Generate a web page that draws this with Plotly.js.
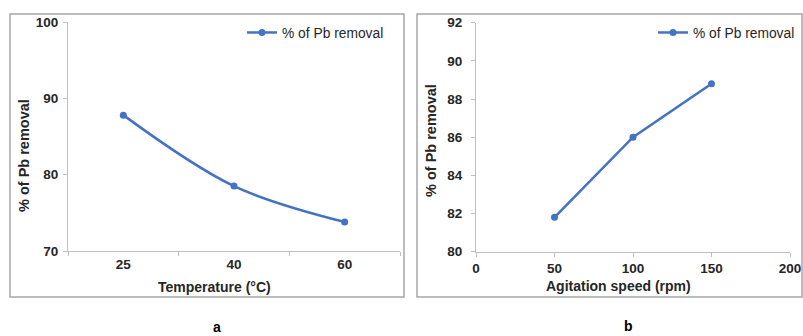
<!DOCTYPE html>
<html>
<head>
<meta charset="utf-8">
<script src="https://cdn.plot.ly/plotly-3.0.1.min.js"></script>
<style>html,body{margin:0;padding:0;background:#fff;}#chart{width:803px;height:336px;}</style>
</head>
<body>
<div id="chart"></div>
<script>
// Data
const tempCategories = ["25", "40", "60"];
const tempRemoval = [87.8, 78.5, 73.8];
const speedValues = [50, 100, 150];
const speedRemoval = [81.8, 86.0, 88.8];
const seriesName = "% of Pb removal";

const W = 803, H = 336;
const px = x => x / W;
const py = y => 1 - y / H;

const blue = "#4472C4";
const axisGray = "#BFBFBF";
const frameGray = "#A6A6A6";
const font = "Liberation Sans, Arial, sans-serif";

const traces = [
  {
    x: tempCategories, y: tempRemoval, name: seriesName,
    type: "scatter", mode: "lines+markers",
    line: {color: blue, width: 2.5, shape: "spline", smoothing: 1},
    marker: {color: blue, size: 7},
    xaxis: "x", yaxis: "y", legend: "legend"
  },
  {
    x: speedValues, y: speedRemoval, name: seriesName,
    type: "scatter", mode: "lines+markers",
    line: {color: blue, width: 2.5},
    marker: {color: blue, size: 7},
    xaxis: "x2", yaxis: "y2", legend: "legend2"
  }
];

const tickFont = {family: font, size: 13.5, color: "#262626", weight: "bold"};
const commonAxis = {
  showgrid: false, zeroline: false, showline: true, linecolor: axisGray, linewidth: 1,
  ticks: "outside", ticklen: 4, tickcolor: axisGray, tickfont: tickFont
};
const titleFont = {family: font, size: 14, color: "#262626", weight: "bold"};
const legendFont = {family: font, size: 13.8, color: "#262626"};

const layout = {
  width: W, height: H,
  margin: {l: 0, r: 0, t: 0, b: 0},
  paper_bgcolor: "#fff", plot_bgcolor: "#fff",
  showlegend: true,
  xaxis: Object.assign({}, commonAxis, {
    domain: [px(68), px(400)], anchor: "y", type: "category",
    range: [-0.5, 2.5], tickson: "boundaries", ticklabelstandoff: 1
  }),
  yaxis: Object.assign({}, commonAxis, {
    domain: [py(251), py(22)], anchor: "x", range: [70, 100], dtick: 10, ticklabelstandoff: 2
  }),
  xaxis2: Object.assign({}, commonAxis, {
    domain: [px(476), px(790)], anchor: "y2", range: [0, 200], dtick: 50, ticklabelstandoff: 0
  }),
  yaxis2: Object.assign({}, commonAxis, {
    domain: [py(251.7), py(22.7)], anchor: "x2", range: [80, 92], dtick: 2, ticklabelstandoff: 6
  }),
  legend: {
    x: px(242), y: py(17), xanchor: "left", yanchor: "top",
    bgcolor: "rgba(0,0,0,0)", font: legendFont, itemwidth: 30
  },
  legend2: {
    x: px(653), y: py(17), xanchor: "left", yanchor: "top",
    bgcolor: "rgba(0,0,0,0)", font: legendFont, itemwidth: 30
  },
  shapes: [
    {type: "rect", xref: "paper", yref: "paper", x0: px(10), x1: px(404), y0: py(297), y1: py(14),
     line: {color: frameGray, width: 1.5}},
    {type: "rect", xref: "paper", yref: "paper", x0: px(417), x1: px(802), y0: py(297), y1: py(14),
     line: {color: frameGray, width: 1.5}}
  ],
  annotations: [
    {text: "Temperature (°C)", xref: "paper", yref: "paper", x: px(214), y: py(287),
     xanchor: "center", yanchor: "middle", showarrow: false, font: titleFont},
    {text: "Agitation speed (rpm)", xref: "paper", yref: "paper", x: px(618), y: py(286),
     xanchor: "center", yanchor: "middle", showarrow: false, font: titleFont},
    {text: "% of Pb removal", xref: "paper", yref: "paper", x: px(24), y: py(156), textangle: -90,
     xanchor: "center", yanchor: "middle", showarrow: false,
     font: Object.assign({}, titleFont, {size: 14.5})},
    {text: "% of Pb removal", xref: "paper", yref: "paper", x: px(431), y: py(141), textangle: -90,
     xanchor: "center", yanchor: "middle", showarrow: false,
     font: Object.assign({}, titleFont, {size: 14.5})},
    {text: "a", xref: "paper", yref: "paper", x: px(217), y: py(327),
     xanchor: "center", yanchor: "middle", showarrow: false,
     font: {family: font, size: 14, color: "#000", weight: "bold"}},
    {text: "b", xref: "paper", yref: "paper", x: px(628), y: py(326),
     xanchor: "center", yanchor: "middle", showarrow: false,
     font: {family: font, size: 14, color: "#000", weight: "bold"}}
  ]
};

Plotly.newPlot("chart", traces, layout, {displayModeBar: false, staticPlot: true});
</script>
</body>
</html>
